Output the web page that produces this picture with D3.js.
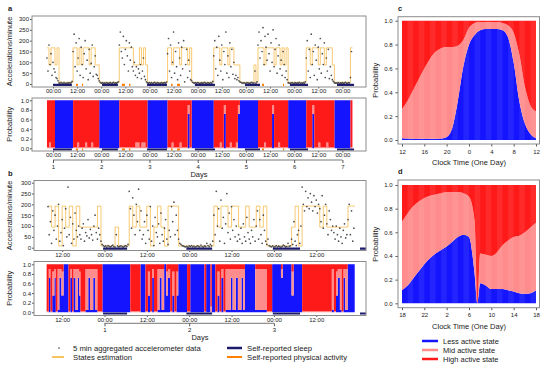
<!DOCTYPE html>
<html>
<head>
<meta charset="utf-8">
<script src="https://cdn.jsdelivr.net/npm/d3@7"></script>
<style>
  body { margin: 0; background: #fff; }
  svg text { font-family: "Liberation Sans", Arial, sans-serif; }
</style>
</head>
<body>
<div id="chart"></div>
<script>
// ---------- data ----------
// hours are counted from midnight at the start of day 1

// mean accelerations of the three states (orange step line)
const stateLevelsA = [8, 88, 167];
const stateLevelsB = [8, 95, 192];

// decoded state per hour: 0 less, 1 mid, 2 high active
const statesAStart = -3;
const statesA = ["212", "212", "0000000", "221212221221", "10", "000000000", "2222222", "1112121",
  "0000000000", "221222122212", "00000000000", "22212221221", "110", "00000010",
  "222122221221212", "000000000", "22122212212221", "000000002"].join("");
const statesBStart = -16;
const statesB = ["21202120", "2111112", "0", "0001000", "2121", "12012102", "22", "00", "00000000",
  "2122122", "11211", "2120", "000000120", "22222", "1211", "1111", "22"].join("");

// accelerometer points (thinned): [start hour, values]
const pointStepA = 0.5;
const pointsA = [
  [-3, [120, 60, 180, 90, 140, 40]],
  [0, [100, 70, 55, 30, 25, 15]],
  [3, [5, 3, 8, 2, 4, 6, 3, 2, 5, 4, 7, 3, 6, 12]],
  [10, [150, 230, 80, 190, 60, 120, 210, 40, 170, 90, 30, 140, 200, 70, 110, 20, 160, 50, 95, 180, 35, 80, 130, 45]],
  [22, [40, 25, 15, 8]],
  [24, [4, 6, 3, 5, 2, 7, 4, 3, 5, 6, 2, 4, 8, 3, 5, 4, 6, 10]],
  [33, [180, 240, 150, 120, 220, 90, 160, 200, 130, 60, 190, 110, 170, 80]],
  [40, [60, 100, 40, 80, 30, 70, 50, 90, 25, 60, 120, 35, 20, 10]],
  [47, [5, 4, 7, 3, 6, 2, 5, 8, 4, 3, 6, 5, 2, 4, 7, 3, 5, 6, 4, 9]],
  [57, [140, 210, 60, 180, 30, 100, 240, 50, 150, 80, 20, 190, 120, 40, 170, 70, 200, 10, 90, 160, 30, 110, 60, 20]],
  [69, [15, 8, 5, 4, 6, 3, 7, 5, 2, 4, 6, 3, 5, 8, 4, 2, 6, 5, 3, 7, 4, 12]],
  [80, [130, 200, 70, 170, 40, 220, 110, 60, 180, 20, 150, 90, 240, 50, 130, 30, 190, 80, 160, 45, 100, 25]],
  [91, [40, 20, 30, 15, 10, 8]],
  [94, [5, 3, 6, 4, 2, 7, 5, 3, 4, 6, 8, 3, 5, 60, 4, 10]],
  [102, [180, 240, 120, 200, 150, 260, 90, 220, 170, 110, 230, 140, 60, 190, 100, 250, 80, 160, 210, 50, 130, 180, 70, 110, 40, 150, 90, 30, 60, 20]],
  [117, [6, 4, 3, 5, 7, 2, 4, 6, 3, 5, 4, 8, 2, 5, 3, 6, 4, 10]],
  [126, [120, 200, 60, 160, 30, 230, 90, 150, 40, 180, 110, 20, 170, 70, 210, 50, 140, 90, 190, 30, 120, 60, 160, 25, 80, 40, 20, 12]],
  [140, [6, 4, 5, 3, 7, 2, 5, 4, 6, 3, 5, 8, 4, 2, 6, 5, 30, 150]]
];
const pointStepB = 1 / 3;
const pointsB = [
  [-16, [190, 60, 120, 20, 170, 80, 150, 40, 100, 200, 30, 70, 130, 10, 90, 180, 50, 280, 60, 140, 20, 110, 40, 160]],
  [-8, [80, 50, 100, 60, 40, 90, 110, 30, 70, 55, 130, 45, 85, 60, 35, 100, 150, 70, 40, 90, 60]],
  [-1, [30, 15, 10]],
  [0, [5, 8, 3, 10, 6, 4, 7, 12, 5, 3, 60, 8, 4, 6, 9, 5, 3, 7, 10, 6, 15]],
  [7, [260, 180, 90, 230, 150, 60, 200, 120, 270, 80, 170, 40]],
  [11, [60, 120, 20, 150, 80, 40, 190, 30, 100, 10, 140, 70, 50, 110, 20, 160, 60, 30, 90, 130, 40, 15, 80, 50]],
  [19, [190, 120, 210, 60, 150, 80]],
  [21, [40, 20, 15, 10, 8, 5]],
  [23, [4, 6, 3, 8, 5, 10, 4, 7, 3, 5, 9, 6, 4, 12, 5, 3, 8, 6, 20, 10, 5, 15, 8, 30]],
  [31, [150, 60, 260, 100, 180, 30, 220, 90, 140, 20, 110, 250, 70, 160, 40, 190, 80, 130, 50, 100, 30]],
  [38, [60, 40, 90, 20, 110, 50, 30, 140, 70, 40, 20, 80, 50, 130, 30]],
  [43, [100, 170, 40, 130, 60, 20, 150, 80, 30, 15, 40, 10]],
  [47, [6, 4, 8, 3, 5, 10, 4, 7, 5, 3, 6, 12, 8, 4, 5, 20, 6, 9, 40, 15, 120, 30, 10, 60, 80, 20, 100]],
  [56, [280, 200, 170, 260, 190, 230, 180, 250, 210, 170, 240, 190, 220, 160, 200]],
  [61, [180, 120, 240, 90, 150, 200, 110, 60, 170, 130, 80, 100]],
  [65, [70, 40, 100, 60, 30, 90, 50, 20, 80, 110, 45, 60]],
  [69, [130, 200, 60, 170, 30, 90]]
];

// self-reported periods [start hour, end hour]
const sleepA = [[0, 9.4], [24.4, 32.3], [46.8, 56.7], [70.6, 80.6], [95.5, 103], [117.9, 126.9], [141.3, 149.8]];
const activityA = [[11.4, 12.4], [14.4, 15], [34.3, 35.8], [37.8, 38.5], [58.7, 59.5], [61.7, 63.2], [104, 105], [114.4, 115]];
const sleepB = [[-0.4, 6.4], [23.2, 30.5], [47.7, 55.4], [72.4, 74.2]];
const activityB = [];

// state probabilities: code -> [less, mid, high]
const probCodes = {
  B: [1, 0, 0], b: [0.72, 0.18, 0.1],
  P: [0.05, 0.85, 0.1], p: [0.35, 0.5, 0.15],
  R: [0, 0.02, 0.98], r: [0, 0.12, 0.88]
};
// panel a: one code per hour from statesAStart
const probA = ["RrR", "RBB", "BBBBBBB", "RRrRRRrRRrRR", "RB", "BBBBBBBBB", "RRRRRRR", "RrrRrrR",
  "BBBBBBBBBB", "RRrRRRrRRRbR", "BBBBBBBBBBB", "RRRrRbRRrRR", "rbB", "BBBBBBBB",
  "RRRrRRRbRRrRRRR", "BBBBBBBBB", "RRRbRRrRRRrRRR", "BBBBBBBBR"].join("");
// panel b: change points [hour, code]
const probB = [[-16.4, "R"], [-15.8, "b"], [-15.3, "R"], [-14.8, "p"], [-14.2, "b"], [-13.8, "R"], [-13.3, "P"],
  [-12.8, "b"], [-12.2, "p"], [-11.6, "B"], [-10.2, "R"], [-9.7, "b"], [-9.2, "R"], [-8.8, "b"], [-8.2, "P"],
  [-7.6, "b"], [-7.2, "p"], [-6.8, "R"], [-5.4, "P"], [-4.6, "b"], [-4.1, "P"], [-3.2, "b"], [-2.7, "P"],
  [-2, "R"], [-0.6, "B"], [7.3, "R"], [10.2, "B"], [11.6, "R"], [12.3, "p"], [12.9, "R"], [13.5, "b"],
  [14, "R"], [15, "P"], [15.6, "b"], [16.2, "P"], [16.9, "B"], [17.5, "p"], [18, "b"], [18.6, "R"],
  [19.2, "p"], [19.8, "R"], [20.4, "p"], [20.9, "B"], [23.4, "R"], [24.3, "B"], [28.3, "R"], [28.8, "B"],
  [30, "r"], [30.4, "B"], [31.4, "R"], [32, "p"], [32.6, "R"], [33.1, "b"], [33.7, "R"], [34.3, "P"],
  [35.8, "b"], [36.3, "P"], [37.2, "b"], [37.8, "P"], [38.8, "b"], [39.3, "P"], [39.8, "B"], [42.7, "P"],
  [46, "R"], [47.5, "B"], [50, "b"], [50.5, "B"], [53, "p"], [53.6, "B"], [56, "R"], [64.4, "P"],
  [65, "R"], [65.6, "p"], [66.1, "b"], [66.7, "P"], [67.2, "R"], [67.7, "b"], [68.2, "P"], [68.9, "B"]];
const probBEnd = 70.9;

const timeTicksA = [0, 12, 24, 36, 48, 60, 72, 84, 96, 108, 120, 132, 144];
const timeTicksB = [-12, 0, 12, 24, 36, 48, 60];
const daysA = [1, 2, 3, 4, 5, 6, 7];
const daysB = [1, 2, 3];

// one-day profiles: hours after the first tick, P(less), P(less)+P(mid)
const cHours = [0, 1, 2, 3, 4, 5, 6, 7, 8, 9, 10, 11, 12, 13, 14, 15, 16, 17, 18, 19, 20, 21, 22, 23, 24];
const cLess = [0.015, 0.012, 0.01, 0.01, 0.01, 0.01, 0.01, 0.012, 0.025, 0.1, 0.33, 0.62, 0.8, 0.88, 0.92,
  0.93, 0.93, 0.93, 0.92, 0.86, 0.65, 0.33, 0.14, 0.05, 0.015];
const cUpper = [0.26, 0.33, 0.42, 0.51, 0.6, 0.68, 0.74, 0.77, 0.78, 0.78, 0.79, 0.84, 0.94, 0.98, 0.99,
  0.99, 0.99, 0.99, 0.98, 0.96, 0.9, 0.72, 0.45, 0.29, 0.24];
const cTickLabels = ["12", "16", "20", "0", "4", "8", "12"];

const dHours = [0, 1, 2, 3, 4, 5, 6, 7, 8, 9, 10, 11, 12, 13, 13.5, 14, 15, 16, 17, 18, 19, 20, 21, 22, 23, 24];
const dLess = [0.11, 0.15, 0.21, 0.27, 0.33, 0.38, 0.42, 0.45, 0.48, 0.52, 0.56, 0.58, 0.56, 0.25, 0,
  0.17, 0.15, 0.12, 0.12, 0.12, 0.11, 0.1, 0.085, 0.08, 0.085, 0.11];
const dUpper = [0.69, 0.76, 0.82, 0.86, 0.89, 0.91, 0.92, 0.93, 0.94, 0.94, 0.94, 0.93, 0.9, 0.7, 0,
  0.42, 0.41, 0.4, 0.43, 0.49, 0.53, 0.56, 0.57, 0.6, 0.64, 0.68];
const dTickLabels = ["18", "22", "2", "6", "10", "14", "18"];
const profileTicks = [0, 4, 8, 12, 16, 20, 24];

const stateNames = ["Less active state", "Mid active state", "High active state"];

// ---------- drawing ----------
const colLess = "#1414ff", colMid = "#ff8c8c", colHigh = "#ff1a1a";
const colState = "#f5b02e", colSleep = "#1c1a6b", colAct = "#ff8000";
const frameCol = "#8c8c8c";
const tickFont = 6;

const svg = d3.select("#chart").append("svg")
  .attr("width", 550)
  .attr("height", 369);

// d3.axis writes font-size 10 on its group, so sizes are set after the call
function tidy(g) {
  g.attr("font-size", tickFont);
  g.select(".domain").remove();
  g.selectAll(".tick line").attr("stroke", "#555");
  g.selectAll(".tick text").attr("fill", "#222");
}

function clip(id, x0, y0, x1, y1) {
  svg.append("clipPath").attr("id", id)
    .append("rect").attr("x", x0).attr("y", y0).attr("width", x1 - x0).attr("height", y1 - y0);
  return "url(#" + id + ")";
}

function frame(x0, y0, x1, y1) {
  svg.append("rect").attr("x", x0).attr("y", y0).attr("width", x1 - x0).attr("height", y1 - y0)
    .attr("fill", "none").attr("stroke", frameCol).attr("stroke-width", 1);
}

function vtitle(txt, x, y) {
  svg.append("text").attr("transform", `translate(${x},${y}) rotate(-90)`)
    .attr("text-anchor", "middle").attr("font-size", 7.5).attr("fill", "#222").text(txt);
}

const clockFmt = t => ((t % 24) + 24) % 24 === 0 ? "00:00" : "12:00";

function timeline(o) {
  const x = d3.scaleLinear().domain(o.tRef).range(o.xRef);
  const yTop = d3.scaleLinear().domain([0, 300]).range(o.topRef);
  const yProb = d3.scaleLinear().domain([0, 1]).range(o.probRef);
  const [bx0, bx1] = o.box;
  const [ty0, ty1] = o.topBox;
  const [py0, py1] = o.probBox;

  // --- accelerations ---
  const cTop = clip(o.id + "top", bx0, ty0, bx1, ty1);
  const stRows = o.states.split("").map((c, i) => ({t: o.statesStart + i, v: o.levels[+c]}));
  stRows.push({t: o.statesStart + o.states.length, v: stRows[stRows.length - 1].v});
  svg.append("path").datum(stRows)
    .attr("clip-path", cTop)
    .attr("fill", "none")
    .attr("stroke", colState)
    .attr("stroke-width", 0.9)
    .attr("stroke-opacity", 0.75)
    .attr("d", d3.line().curve(d3.curveStepAfter).x(d => x(d.t)).y(d => yTop(d.v)));

  const pts = o.points.flatMap(([t0, vals]) => vals.map((v, i) => ({t: t0 + i * o.pointStep, v})));
  svg.append("g").attr("clip-path", cTop)
    .selectAll("circle").data(pts).join("circle")
    .attr("cx", d => x(d.t)).attr("cy", d => yTop(d.v))
    .attr("r", 0.85).attr("fill", "#4d4d4d");

  const bars = (g, data, col, yv, w) => g.selectAll(null).data(data).join("line")
    .attr("x1", d => x(d[0])).attr("x2", d => x(d[1]))
    .attr("y1", yv).attr("y2", yv)
    .attr("stroke", col).attr("stroke-width", w);
  const gt = svg.append("g").attr("clip-path", cTop);
  bars(gt, o.sleep, colSleep, yTop(-4), 2.2);
  bars(gt, o.activity, colAct, yTop(-4), 2.2);

  svg.append("g").attr("transform", `translate(${bx0},0)`)
    .call(d3.axisLeft(yTop).tickValues([0, 50, 100, 150, 200, 250, 300]).tickSize(2).tickPadding(1))
    .call(tidy);
  svg.append("g").attr("transform", `translate(0,${ty1})`)
    .call(d3.axisBottom(x).tickValues(o.timeTicks).tickSize(1.5).tickPadding(0.5).tickFormat(clockFmt))
    .call(tidy);
  frame(bx0, ty0, bx1, ty1);
  vtitle("Accelerations/minute", 12, (ty0 + ty1) / 2);

  // --- probabilities ---
  const cProb = clip(o.id + "prob", bx0, py0, bx1, py1);
  const rows = o.prob.map(([t, c]) => {
    const p = probCodes[c];
    return {t, less: p[0], mid: p[1], high: p[2]};
  });
  rows.push(Object.assign({}, rows[rows.length - 1], {t: o.probEnd}));
  const series = d3.stack().keys(["less", "mid", "high"])(rows);
  const area = d3.area().curve(d3.curveStepAfter)
    .x(d => x(d.data.t)).y0(d => yProb(d[0])).y1(d => yProb(d[1]));
  svg.append("g").attr("clip-path", cProb)
    .selectAll("path").data(series).join("path")
    .attr("fill", (d, i) => [colLess, colMid, colHigh][i])
    .attr("d", area);
  const gp = svg.append("g").attr("clip-path", cProb);
  bars(gp, o.sleep, colSleep, yProb(-0.025), 2);
  bars(gp, o.activity, colAct, yProb(-0.025), 2);

  svg.append("g").attr("transform", `translate(${bx0},0)`)
    .call(d3.axisLeft(yProb).tickValues([0, 0.2, 0.4, 0.6, 0.8, 1]).tickFormat(d3.format(".1f")).tickSize(2).tickPadding(1))
    .call(tidy);
  svg.append("g").attr("transform", `translate(0,${py1})`)
    .call(d3.axisBottom(x).tickValues(o.timeTicks).tickSize(1.5).tickPadding(0.5).tickFormat(clockFmt))
    .call(tidy);
  frame(bx0, py0, bx1, py1);
  vtitle("Probability", 12, yProb(0.5));

  // --- days ---
  const gd = svg.append("g").attr("transform", `translate(0,${o.daysY})`)
    .call(d3.axisBottom(d3.scaleLinear().domain([1, 2]).range([x(0), x(24)]))
      .tickValues(o.days).tickFormat(d3.format("d")).tickSize(3).tickPadding(1.5));
  gd.attr("font-size", tickFont);
  gd.select(".domain").attr("stroke", "#777")
    .attr("d", `M${x(0)},0H${x((o.days[o.days.length - 1] - 1) * 24)}`);
  gd.selectAll(".tick line").attr("stroke", "#555");
  gd.selectAll(".tick text").attr("fill", "#222");
  svg.append("text").attr("x", (bx0 + bx1) / 2).attr("y", o.daysY + 16.5)
    .attr("text-anchor", "middle").attr("font-size", 7.5).attr("fill", "#222").text("Days");

  svg.append("text").attr("x", 8).attr("y", ty0 - 5).attr("font-size", 7.5)
    .attr("font-weight", "bold").attr("fill", "#222").text(o.id);
}

timeline({
  id: "a", tRef: [0, 144], xRef: [53, 342.4],
  box: [32, 366], topBox: [16, 87], topRef: [84, 19],
  probBox: [98, 151], probRef: [148.3, 100.3], daysY: 160,
  states: statesA, statesStart: statesAStart, levels: stateLevelsA,
  points: pointsA, pointStep: pointStepA,
  sleep: sleepA, activity: activityA,
  prob: probA.split("").map((c, i) => [statesAStart + i, c]), probEnd: statesAStart + probA.length,
  timeTicks: timeTicksA, days: daysA
});

timeline({
  id: "b", tRef: [0, 48], xRef: [104.5, 273.9],
  box: [34, 366], topBox: [180.5, 250.5], topRef: [247.7, 182.7],
  probBox: [261.5, 315.5], probRef: [312.3, 264.3], daysY: 323.3,
  states: statesB, statesStart: statesBStart, levels: stateLevelsB,
  points: pointsB, pointStep: pointStepB,
  sleep: sleepB, activity: activityB,
  prob: probB, probEnd: probBEnd,
  timeTicks: timeTicksB, days: daysB
});

// bottom-left legend
const lg = svg.append("g").attr("font-size", 7.7).attr("fill", "#222");
lg.append("circle").attr("cx", 59).attr("cy", 348).attr("r", 0.85).attr("fill", "#4d4d4d");
lg.append("line").attr("x1", 52).attr("x2", 64).attr("y1", 357).attr("y2", 357).attr("stroke", colState).attr("stroke-width", 1.5);
lg.append("line").attr("x1", 227).attr("x2", 242).attr("y1", 348).attr("y2", 348).attr("stroke", colSleep).attr("stroke-width", 2.5);
lg.append("line").attr("x1", 227).attr("x2", 242).attr("y1", 357).attr("y2", 357).attr("stroke", colAct).attr("stroke-width", 2);
[["5 min aggregated accelerometer data", 73, 348], ["States estimation", 73, 357],
 ["Self-reported sleep", 247, 348], ["Self-reported physical activity", 247, 357]].forEach(([t, x, y]) =>
  lg.append("text").attr("x", x).attr("y", y).attr("dy", "0.35em").text(t));

// ---------- one-day profiles ----------
function profile(o) {
  const x = d3.scaleLinear().domain([0, 24]).range([402, 536]);
  const y = d3.scaleLinear().domain([0, 1]).range(o.yRef);
  const [y0, y1] = o.box;
  const rows = o.hours.map((h, i) => ({h, less: o.less[i], mid: o.upper[i] - o.less[i], high: 1 - o.upper[i]}));
  const series = d3.stack().keys(["less", "mid", "high"])(rows);
  const area = d3.area().curve(d3.curveMonotoneX)
    .x(d => x(d.data.h)).y0(d => y(d[0])).y1(d => y(d[1]));
  const g = svg.append("g");
  g.selectAll("path").data(series).join("path")
    .attr("fill", (d, i) => [colLess, colMid, colHigh][i])
    .attr("d", area);
  // faint hourly banding of the original rendering
  g.selectAll("rect").data(o.hours.filter(h => Number.isInteger(h) && h < 24 && h % 2 === 1))
    .join("rect")
    .attr("x", d => x(d)).attr("width", d => x(d + 1) - x(d))
    .attr("y", y(1)).attr("height", y(0) - y(1))
    .attr("fill", "#fff").attr("opacity", 0.07);

  svg.append("g").attr("transform", "translate(398,0)")
    .call(d3.axisLeft(y).tickValues([0, 0.2, 0.4, 0.6, 0.8, 1]).tickFormat(d3.format(".1f")).tickSize(2.5).tickPadding(3))
    .call(tidy);
  svg.append("g").attr("transform", `translate(0,${y1})`)
    .call(d3.axisBottom(x).tickValues(profileTicks).tickFormat((d, i) => o.tickLabels[i]).tickSize(2.5).tickPadding(3))
    .call(tidy);
  frame(398, y0, 539.5, y1);
  vtitle("Probability", 378, y(0.5));
  svg.append("text").attr("x", 469).attr("y", y1 + 21).attr("text-anchor", "middle")
    .attr("font-size", 7.5).attr("fill", "#222").text("Clock Time (One Day)");
  svg.append("text").attr("x", 398).attr("y", y0 - 6).attr("font-size", 7.5)
    .attr("font-weight", "bold").attr("fill", "#222").text(o.id);
}

profile({id: "c", hours: cHours, less: cLess, upper: cUpper, tickLabels: cTickLabels, yRef: [140, 20.7], box: [16.7, 144]});
profile({id: "d", hours: dHours, less: dLess, upper: dUpper, tickLabels: dTickLabels, yRef: [303.3, 185], box: [180, 307.7]});

// state legend
const sl = svg.append("g").attr("font-size", 7.5).attr("fill", "#222");
stateNames.forEach((name, i) => {
  const yy = 341 + i * 9;
  sl.append("line").attr("x1", 422).attr("x2", 438).attr("y1", yy).attr("y2", yy)
    .attr("stroke", [colLess, colMid, colHigh][i]).attr("stroke-width", 2.5);
  sl.append("text").attr("x", 443).attr("y", yy).attr("dy", "0.35em").text(name);
});
</script>
</body>
</html>
